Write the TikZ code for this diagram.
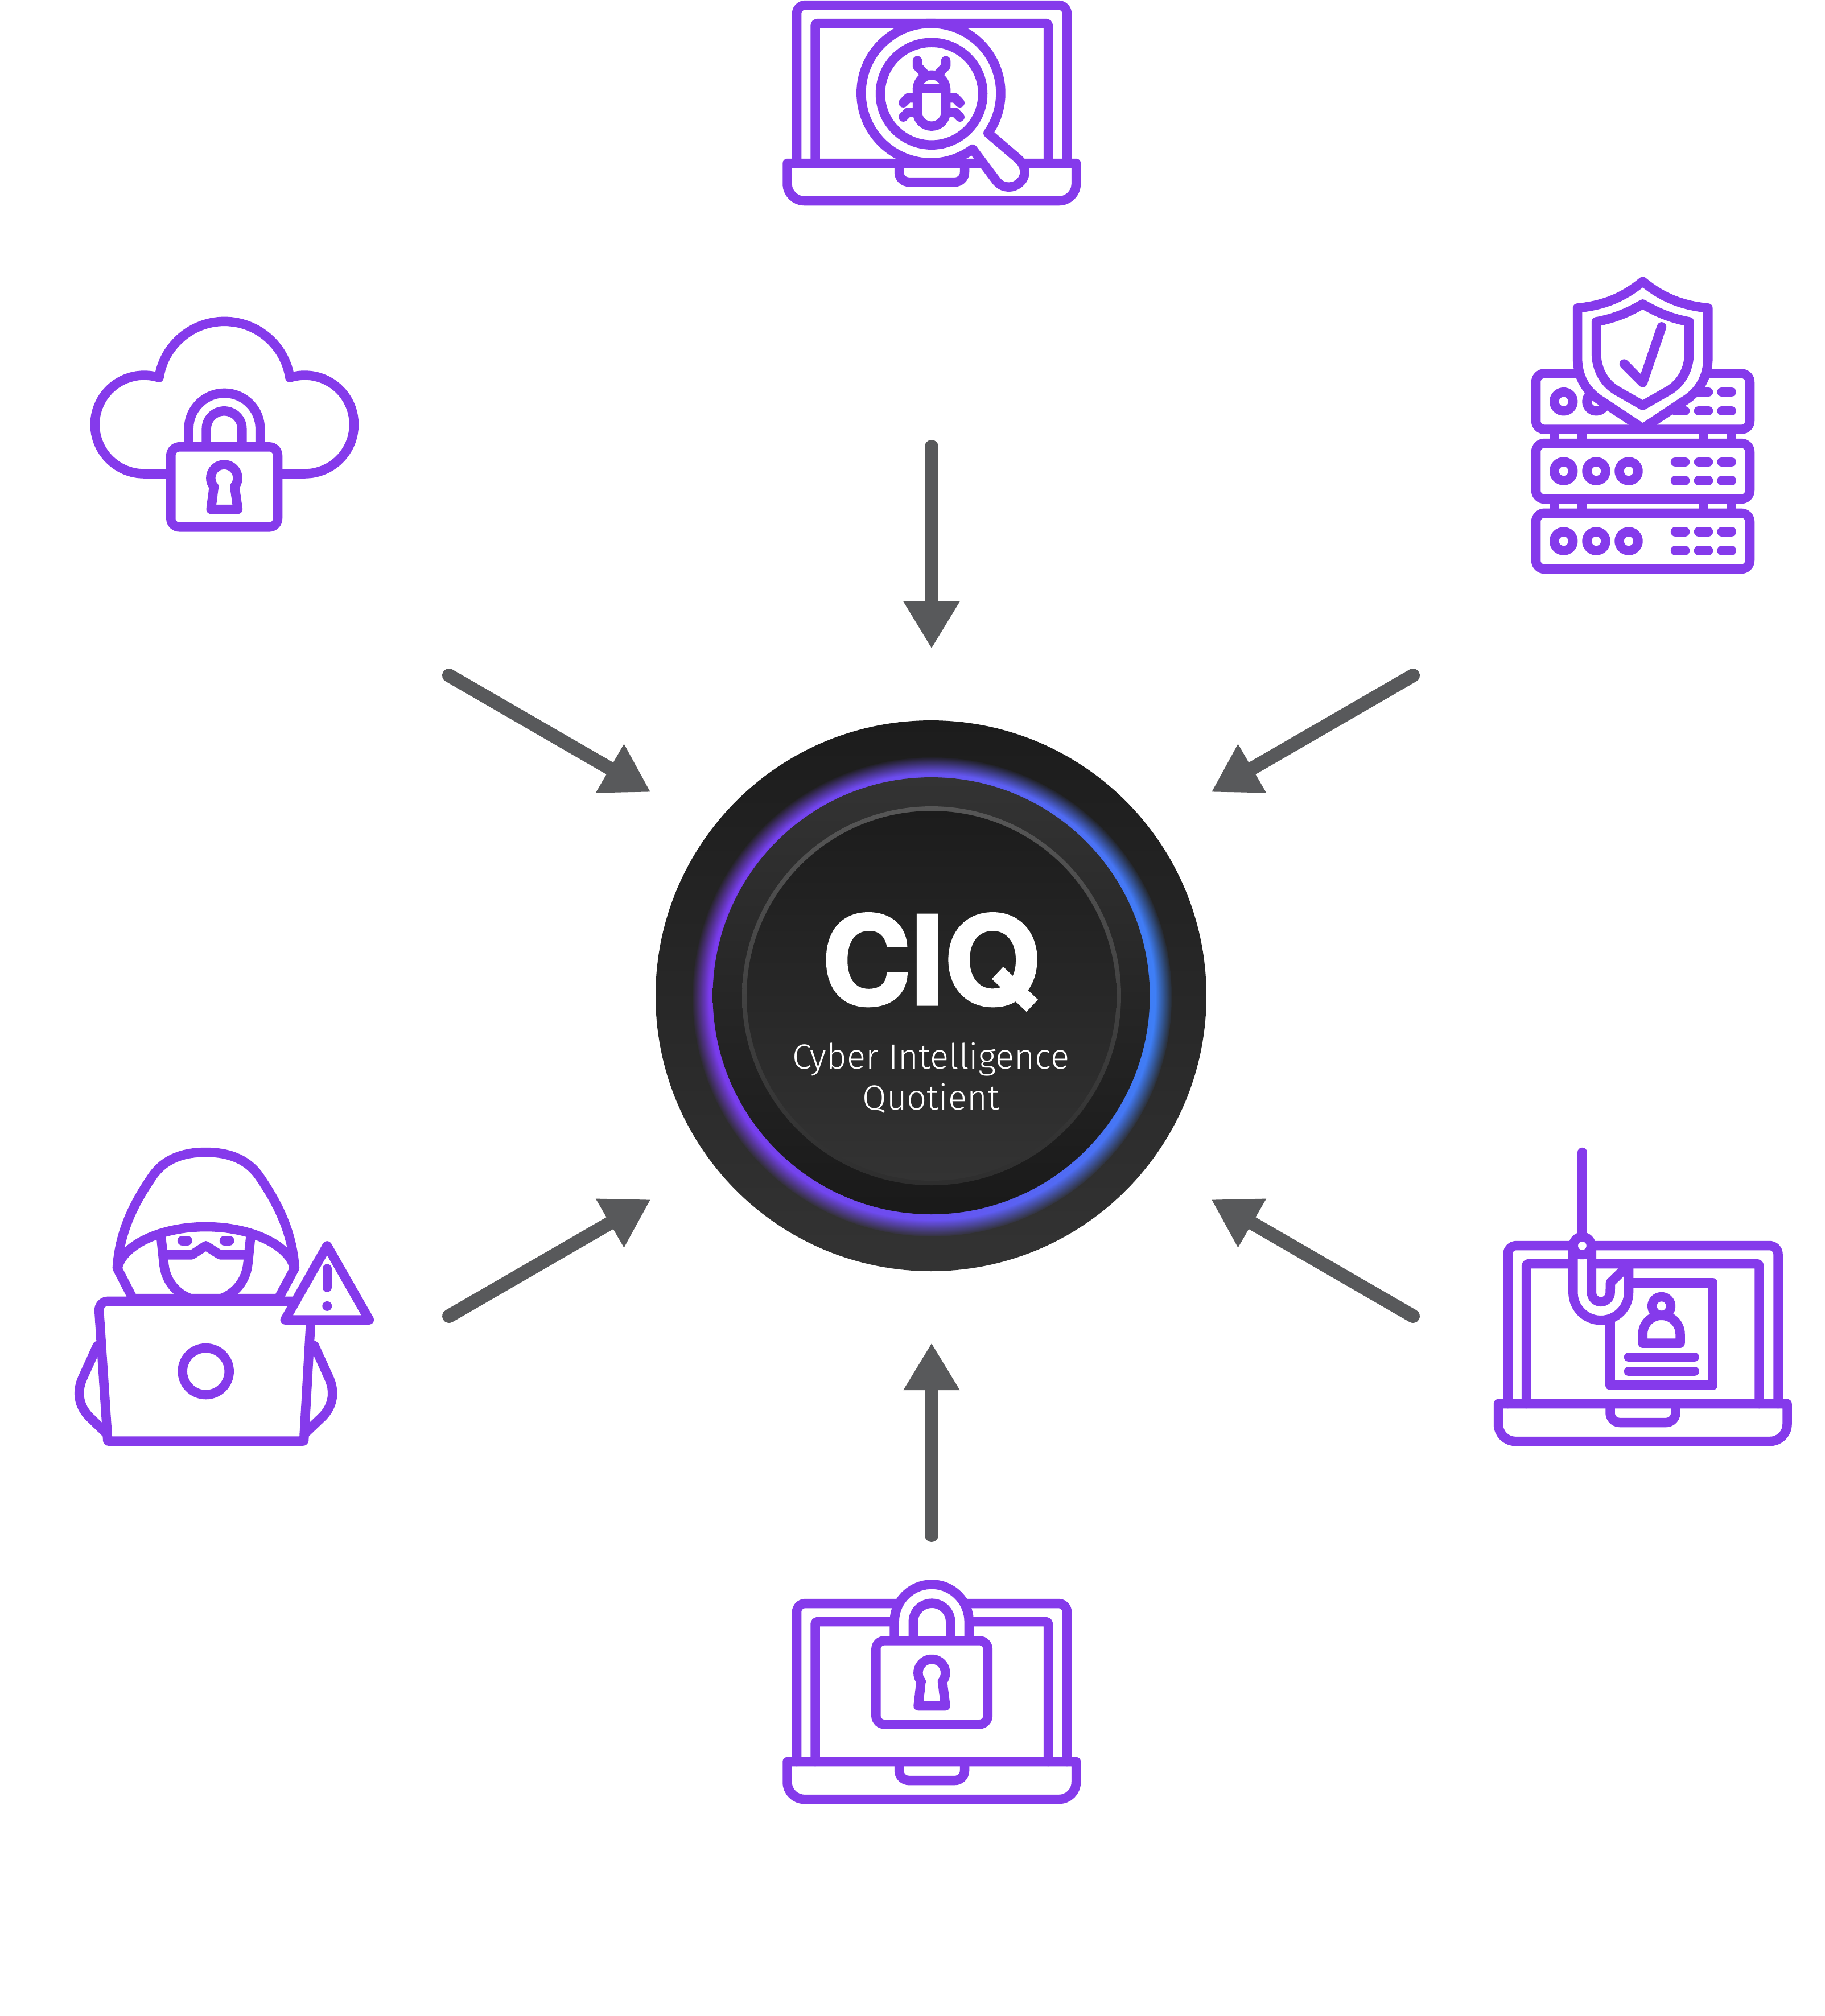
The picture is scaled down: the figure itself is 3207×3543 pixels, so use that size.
\documentclass[tikz,border=0pt]{standalone}
\usepackage{fontspec}
\usetikzlibrary{arrows.meta,fadings,shadings}
\setmainfont{Fira Sans}
\newfontfamily\ciqfont{TeX Gyre Heros}[UprightFont=* Bold,UprightFeatures={FakeBold=2.5}]
\newfontfamily\subfont{Fira Sans}[UprightFont=* Light]
\definecolor{iconviolet}{HTML}{853AEB}
\definecolor{arrowgrey}{HTML}{58595B}
\definecolor{glowviolet}{HTML}{7C3AED}
\definecolor{glowmid}{HTML}{6A50F0}
\definecolor{glowblue}{HTML}{3B82F6}
\pgfdeclareradialshading{glowmask}{\pgfpointorigin}{color(0bp)=(pgftransparent!0); color(23.2bp)=(pgftransparent!0); color(25bp)=(pgftransparent!100); color(50bp)=(pgftransparent!100)}
\pgfdeclarefading{glowfade}{\pgfuseshading{glowmask}}
\tikzset{
  ic/.style={draw=iconviolet,line width=1.65pt,line join=round,line cap=round},
  icw/.style={ic,fill=white},
  flow/.style={draw=arrowgrey,line width=2.4pt,line cap=round,-{Triangle[length=8.3pt,width=9.3pt,fill=arrowgrey]}},
  disc/.style={circle,inner sep=0pt,outer sep=0pt,shade,shading=axis},
}
\newcommand{\laptopicon}[2]{%
  \begin{scope}[shift={(#1,#2)}]
    \draw[ic,rounded corners=1.5pt] (0,278) -- (0,0) -- (475,0) -- (475,278);
    \draw[ic,rounded corners=0.4pt] (32.5,278) -- (32.5,32) -- (442,32) -- (442,278);
    \draw[ic] (-16.5,278) -- (491,278) -- (491,314) arc[start angle=0,end angle=90,radius=30] -- (13.5,344) arc[start angle=90,end angle=180,radius=30] -- cycle;
    \draw[ic] (180,278) -- (180,294) arc[start angle=180,end angle=90,radius=17] -- (278,311) arc[start angle=90,end angle=0,radius=17] -- (295,278);
  \end{scope}}
\begin{document}
\begin{tikzpicture}[x=0.1pt,y=0.1pt,yscale=-1]
\useasboundingbox (0,0) rectangle (3207,3543);
\fill[white] (0,0) rectangle (3207,3543);

% ---------- hub ----------
\node[disc,minimum size=96.8pt,top color=black!89,bottom color=black!80] (hub) at (1636,1750) {};
\path[shade,left color=glowviolet,right color=glowblue,middle color=glowmid,path fading=glowfade] (1638,1752) circle[radius=421];
\node[disc,minimum size=76.8pt,top color=black!80,bottom color=black!90] (hubdisc) at (1636.5,1750) {};
\node[disc,minimum size=66.6pt,top color=black!66,bottom color=black!82] (hubring) at (1637,1750) {};
\node[disc,minimum size=65pt,top color=black!89,bottom color=black!80] (hubcore) at (1637,1750) {};
\node[text=white,inner sep=0pt,anchor=base,font=\ciqfont\fontsize{21.5}{23}\selectfont] (ciq) at (1636,1765) {CIQ};
\node[text=white,inner sep=0pt,anchor=base,font=\subfont\fontsize{6.15}{7}\selectfont] (subline) at (1636,1878) {Cyber Intelligence};
\node[text=white,inner sep=0pt,anchor=base,font=\subfont\fontsize{6.15}{7}\selectfont] (subquot) at (1636,1950) {Quotient};

% ---------- arrows ----------
\coordinate (nS) at (1637,785);   \coordinate (nT) at (1637,1140);
\coordinate (sS) at (1637,2698);  \coordinate (sT) at (1637,2360);
\coordinate (nwS) at (789,1187);  \coordinate (nwT) at (1143.5,1392);
\coordinate (neS) at (2483,1187); \coordinate (neT) at (2128.5,1392);
\coordinate (swS) at (789,2313);  \coordinate (swT) at (1143.5,2108);
\coordinate (seS) at (2483,2313); \coordinate (seT) at (2128.5,2108);
\draw[flow] (nS) -- (nT);
\draw[flow] (sS) -- (sT);
\draw[flow] (nwS) -- (nwT);
\draw[flow] (neS) -- (neT);
\draw[flow] (swS) -- (swT);
\draw[flow] (seS) -- (seT);

% ---------- bug laptop ----------
\laptopicon{1400}{9}
\draw[icw] (1709,262) arc[start angle=53.4,end angle=395,radius=122.6]
  -- (1789,279) .. controls (1802,290) and (1805,309) .. (1793,320)
  .. controls (1781,332) and (1762,332) .. (1751,318) -- cycle;
\draw[ic] (1637,164.7) circle[radius=90];
\draw[ic] (1612,156.7) arc[start angle=180,end angle=360,radius=25] -- (1662,196.7) arc[start angle=0,end angle=180,radius=25] -- cycle;
\draw[ic] (1612,156) -- (1662,156);
\draw[ic] (1612,106.7) -- (1612,116) -- (1625,130);
\draw[ic] (1662,106.7) -- (1662,116) -- (1649,130);
\draw[ic] (1587.3,180.7) -- (1595.7,172) -- (1612,172);
\draw[ic] (1686.7,180.7) -- (1678.3,172) -- (1662,172);
\draw[ic] (1587.3,205.7) -- (1595.7,197.3) -- (1612,197.3);
\draw[ic] (1686.7,205.7) -- (1678.3,197.3) -- (1662,197.3);

% ---------- server + shield ----------
\foreach \t/\b in {656.4/754.6,779/877,901.8/1000}{
  \draw[ic,rounded corners=1.5pt] (2699,\t) rectangle (3075,\b);}
\foreach \x in {2731.3,2780.7,2993,3042}{
  \draw[ic,line cap=butt] (\x,754.6) -- (\x,779);
  \draw[ic,line cap=butt] (\x,877) -- (\x,901.8);}
\foreach \y in {705.7,828,951}{
  \foreach \x in {2747.7,2805,2862}{\draw[ic] (\x,\y) circle[radius=16.5];}}
\foreach \y in {689,721.8,811.8,844.6,934.6,967.5}{
  \draw[ic] (2944,\y) -- (2961,\y);
  \draw[ic] (2985,\y) -- (3002,\y);
  \draw[ic] (3025.7,\y) -- (3042.7,\y);}
\draw[icw] (2886.7,494.6) .. controls (2850,525) and (2815,537) .. (2772,541.4) -- (2772,628)
  .. controls (2772,660) and (2785,688) .. (2816.7,706.4) -- (2886.7,753) -- (2956.7,706.4)
  .. controls (2988.4,688) and (3001.4,660) .. (3001.4,628) -- (3001.4,541.4)
  .. controls (2958.4,537) and (2923.4,525) .. cycle;
\draw[ic] (2886.7,534.3) .. controls (2860,550) and (2835,560) .. (2805,565.4) -- (2805,619)
  .. controls (2805,648) and (2818,673) .. (2841.7,686.8) -- (2886.7,712.5) -- (2931.7,686.8)
  .. controls (2955.4,673) and (2968.4,648) .. (2968.4,619) -- (2968.4,565.4)
  .. controls (2938.4,560) and (2913.4,550) .. cycle;
\draw[ic] (2854,639.6) -- (2886.7,672.5) -- (2920,574.3);

% ---------- cloud + lock ----------
\draw[ic] (300,832.5) -- (253.3,832.5) arc[start angle=90,end angle=287.6,radius=86.5]
  arc[start angle=188.7,end angle=351.3,radius=116.3]
  arc[start angle=252.4,end angle=450,radius=86.5] -- (488,832.5);
\draw[ic] (331.7,785.3) -- (331.7,753.6) arc[start angle=180,end angle=360,radius=62.7] -- (457.1,785.3);
\draw[ic] (362.7,785.3) -- (362.7,753.6) arc[start angle=180,end angle=360,radius=31.3] -- (425.3,785.3);
\draw[icw,rounded corners=1.5pt] (300.3,785.3) rectangle (488,926.3);
\draw[ic] (376,855) -- (370.7,895) -- (418,895) -- (412.3,855) arc[start angle=39,end angle=-219,radius=23.6];

% ---------- hacker ----------
\draw[ic] (171,2365) -- (146,2420) .. controls (134,2445) and (138,2470) .. (156,2489) -- (188,2520);
\draw[ic] (552.4,2365) -- (577.4,2420) .. controls (589.4,2445) and (585.4,2470) .. (567.4,2489) -- (535,2520);
\draw[icw] (205.9,2228.6) .. controls (210,2165) and (235,2115) .. (268,2067)
  .. controls (290,2035) and (325,2025) .. (361.7,2025)
  .. controls (398,2025) and (433,2035) .. (455.4,2067)
  .. controls (488.4,2115) and (513.4,2165) .. (517.9,2228.6) -- (489.3,2282) -- (233.4,2282) -- cycle;
\draw[ic] (206.6,2228.6) .. controls (214,2190) and (280,2156) .. (361.7,2156) .. controls (443,2156) and (510,2190) .. (516.9,2228.6);
\draw[ic] (282.4,2167.9) -- (288,2221) .. controls (292,2262) and (325,2287) .. (361.7,2287) .. controls (398,2287) and (431,2262) .. (435.5,2221) -- (441,2167.9);
\draw[ic] (293.8,2205.4) -- (336.9,2205.4) -- (361.7,2189.3) -- (386.9,2205.4) -- (431.7,2205.4);
\draw[ic] (320,2180.4) -- (329.6,2180.4);
\draw[ic] (394,2180.4) -- (403.4,2180.4);
\draw[icw] (189.3,2532.5) [rounded corners=1.7pt] -- (173,2286.8) [rounded corners=0.1pt] -- (548,2286.8) -- (534,2532.5) -- cycle;
\draw[ic] (361.7,2410) circle[radius=41];
\draw[icw] (574.8,2189.3) -- (649,2319.6) -- (500.7,2319.6) -- cycle;
\draw[ic] (574.8,2229.6) -- (574.8,2262.5);
\fill[iconviolet] (574.8,2295.4) circle[radius=8.5];

% ---------- phishing laptop ----------
\laptopicon{2649.5}{2189}
\draw[ic] (2861.8,2254.3) -- (3010,2254.3) -- (3010,2434.6) -- (2829.6,2434.6) -- (2829.6,2300);
\draw[ic] (2919.6,2295.4) circle[radius=16.4];
\draw[ic] (2886.8,2360.7) -- (2886.8,2344.5) arc[start angle=180,end angle=360,radius=32.85] -- (2952.5,2360.7) -- cycle;
\draw[ic] (2862,2385) -- (2977.7,2385);
\draw[ic] (2862,2410) -- (2977.7,2410);
\draw[icw] (2764.3,2195) -- (2764.3,2271.4) arc[start angle=180,end angle=0,radius=48.85] -- (2862,2223) -- (2830,2254) -- (2829.6,2271.4) arc[start angle=0,end angle=180,radius=16.4] -- (2796.8,2195) -- cycle;
\draw[icw] (2780.4,2189.3) circle[radius=15.7];
\draw[ic] (2780.4,2025) -- (2780.4,2173.6);

% ---------- lock laptop ----------
\laptopicon{1400}{2818}
\draw[icw] (1571.7,2883.3) -- (1571.7,2850) arc[start angle=180,end angle=360,radius=65.55] -- (1702.8,2883.3) -- cycle;
\draw[ic] (1604.8,2883.3) -- (1604.8,2850.4) arc[start angle=180,end angle=360,radius=32.75] -- (1670.3,2883.3);
\draw[icw,rounded corners=1.5pt] (1539.3,2883.3) rectangle (1735.9,3030.3);
\draw[ic] (1618.5,2955) -- (1613.5,2998) -- (1661.5,2998) -- (1656,2955) arc[start angle=39,end angle=-219,radius=24];
\end{tikzpicture}
\end{document}
